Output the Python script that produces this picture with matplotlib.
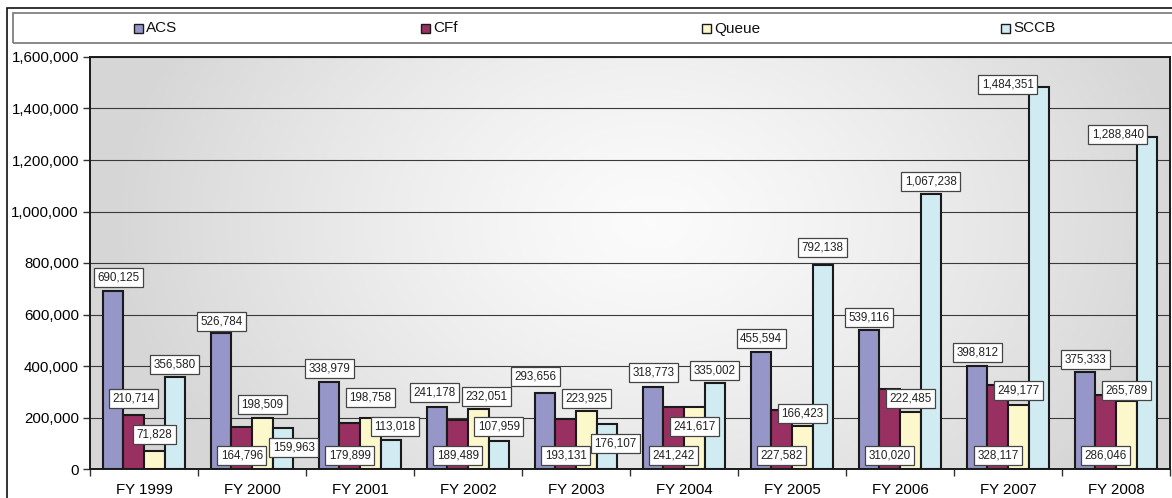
import numpy as np
import matplotlib
matplotlib.use("Agg")
import matplotlib.pyplot as plt
from matplotlib.patches import Rectangle

plt.rcParams['font.family'] = ['Liberation Sans', 'DejaVu Sans']

# Veriler
years = ['FY 1999', 'FY 2000', 'FY 2001', 'FY 2002', 'FY 2003',
         'FY 2004', 'FY 2005', 'FY 2006', 'FY 2007', 'FY 2008']
series_names = ['ACS', 'CFf', 'Queue', 'SCCB']
acs = [690125, 526784, 338979, 241178, 293656, 318773, 455594, 539116, 398812, 375333]
cff = [210714, 164796, 179899, 189489, 193131, 241242, 227582, 310020, 328117, 286046]
queue = [71828, 198509, 198758, 232051, 223925, 241617, 166423, 222485, 249177, 265789]
sccb = [356580, 159963, 113018, 107959, 176107, 335002, 792138, 1067238, 1484351, 1288840]
y_ticks = [0, 200000, 400000, 600000, 800000, 1000000, 1200000, 1400000, 1600000]

colors = ['#9696C8', '#993062', '#FDF8CC', '#D0EBF2']

# Etiket yerleşimi (piksel): dy > 0 çubuğun üstünde, None = tabana yakın
acs_dy = [14, 12, 13, 14, 17, 14, 13, 13, 14, 13]
acs_dx = [5, 0, 0, -3, -10, 0, 0, 0, 0, 0]
cff_dy = [16, None, None, None, None, None, None, None, None, None]
cff_dx = [0] * 10
queue_dy = [16, 13, 20, 13, 13, -20, 13, 13, 14, 10]
queue_dx = [0, 0, 0, 8, 0, 0, 0, 0, 0, 0]
sccb_dy = [13, -20, 13, 15, -20, 12, 18, 13, 2, 3]
sccb_dx = [0, 11, 4, 0, 9, 0, 0, 0, -31, -29]

W, H = 1172, 498
fig = plt.figure(figsize=(W / 100, H / 100), dpi=100)

# Dış çerçeve
fig.patches.append(Rectangle((7 / W, -0.1), 1.2, (H - 8) / H + 0.1,
                             transform=fig.transFigure, fill=False,
                             ec='#111111', lw=1.2))

# Grafik alanı
left, right, top, bottom = 90, 1170, 57, 469
ax = fig.add_axes([left / W, (H - bottom) / H, (right - left) / W, (bottom - top) / H])

# Degrade arka plan
gx, gy = np.meshgrid(np.linspace(0, 1, 400), np.linspace(0, 1, 200))
t = np.sqrt(((gx - 0.52) / 0.5) ** 2 + ((gy - 0.6) / 0.95) ** 2)
t = np.clip(t, 0, 1) ** 1.3
shade = 0.985 * (1 - t) + 0.84 * t
ax.imshow(np.dstack([shade, shade, shade]), extent=[0, 1, 0, 1], origin='lower',
          transform=ax.transAxes, aspect='auto', zorder=0, interpolation='bilinear')

x = np.arange(len(years))
w = 0.19
all_series = [acs, cff, queue, sccb]
all_dy = [acs_dy, cff_dy, queue_dy, sccb_dy]
all_dx = [acs_dx, cff_dx, queue_dx, sccb_dx]

for k, vals in enumerate(all_series):
    xs = x + (k - 1.5) * w
    ax.bar(xs, vals, width=w, color=colors[k], edgecolor='#1a1a1a',
           linewidth=1.5, zorder=3)
    for xi, v, dy, dx in zip(xs, vals, all_dy[k], all_dx[k]):
        if dy is None:
            xy, off = (xi, 0), (dx, 14)
        else:
            xy, off = (xi, v), (dx, dy)
        ax.annotate(f'{v:,}', xy=xy, xytext=off, textcoords='offset pixels',
                    ha='center', va='center', fontsize=8.4, color='#222222',
                    zorder=5,
                    bbox=dict(boxstyle='square,pad=0.3', fc='white',
                              ec='#444444', lw=0.9))

ax.set_xlim(-0.5, len(years) - 0.5)
ax.set_ylim(0, 1600000)
ax.set_yticks(y_ticks)
ax.set_yticklabels([f'{v:,}' for v in y_ticks])
ax.yaxis.grid(True, color='#3a3a3a', linewidth=0.8, zorder=1)
ax.set_axisbelow(True)

ax.set_xticks(x)
ax.set_xticklabels(years)
ax.set_xticks(np.arange(-0.5, len(years)), minor=True)
ax.tick_params(axis='x', which='major', length=0, pad=10, labelsize=10.8)
ax.tick_params(axis='x', which='minor', length=5, width=1, color='#333333')
ax.tick_params(axis='y', length=5, width=1, pad=3, labelsize=10.8, color='#333333')

for s in ax.spines.values():
    s.set_color('#1a1a1a')
    s.set_linewidth(1.4)

# Açıklama kutusu
fig.patches.append(Rectangle((13 / W, (H - 43) / H), 1.2, 30 / H,
                             transform=fig.transFigure, fill=False,
                             ec='#808080', lw=1.3))
legend_x = [134, 421, 702, 1001]
for lx, name, c in zip(legend_x, series_names, colors):
    fig.patches.append(Rectangle((lx / W, (H - 33) / H), 9 / W, 9 / H,
                                 transform=fig.transFigure, fc=c,
                                 ec='#1a1a1a', lw=1.0))
    fig.text((lx + 12) / W, (H - 28.5) / H, name, fontsize=11,
             va='center', ha='left', color='#111111')

fig.savefig('out.png', dpi=100)
